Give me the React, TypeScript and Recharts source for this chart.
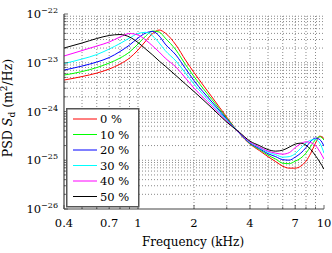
import React from 'react';
import { LineChart, Line, XAxis, YAxis, ReferenceLine } from 'recharts';

// Frequency samples (kHz)
const frequencyKHz = [0.4, 0.5, 0.6, 0.7, 0.8, 0.9, 1.0, 1.1, 1.2, 1.3, 1.4, 1.6, 1.8, 2, 2.5, 3, 3.5, 4, 4.5, 5, 5.5, 6, 6.5, 7, 7.5, 8, 8.5, 9, 9.5, 10];

// log10 of PSD S_d (m^2/Hz), one array per series
const psdLog0 = [-23.355, -23.283, -23.212, -23.129, -23.027, -22.904, -22.739, -22.554, -22.400, -22.329, -22.390, -22.637, -22.945, -23.201, -23.704, -24.115, -24.444, -24.669, -24.803, -24.926, -25.029, -25.121, -25.162, -25.162, -25.121, -25.019, -24.854, -24.649, -24.505, -24.556];
const psdLog10 = [-23.253, -23.181, -23.099, -23.006, -22.904, -22.780, -22.616, -22.452, -22.349, -22.370, -22.493, -22.739, -23.037, -23.283, -23.756, -24.136, -24.444, -24.659, -24.782, -24.895, -24.977, -25.060, -25.070, -25.019, -24.957, -24.854, -24.710, -24.577, -24.515, -24.587];
const psdLog20 = [-23.150, -23.068, -22.986, -22.893, -22.770, -22.637, -22.493, -22.390, -22.359, -22.452, -22.616, -22.842, -23.119, -23.366, -23.807, -24.156, -24.444, -24.649, -24.762, -24.865, -24.926, -24.988, -24.998, -24.936, -24.854, -24.741, -24.608, -24.546, -24.577, -24.710];
const psdLog30 = [-23.016, -22.924, -22.832, -22.719, -22.606, -22.493, -22.400, -22.376, -22.452, -22.595, -22.750, -22.965, -23.212, -23.437, -23.848, -24.177, -24.433, -24.639, -24.741, -24.834, -24.885, -24.936, -24.926, -24.865, -24.752, -24.649, -24.587, -24.577, -24.649, -24.854];
const psdLog40 = [-22.862, -22.750, -22.657, -22.575, -22.472, -22.400, -22.431, -22.534, -22.657, -22.780, -22.904, -23.088, -23.314, -23.520, -23.889, -24.197, -24.433, -24.628, -24.731, -24.813, -24.854, -24.875, -24.844, -24.741, -24.659, -24.622, -24.639, -24.700, -24.823, -24.977];
const psdLog50 = [-22.698, -22.595, -22.503, -22.441, -22.421, -22.472, -22.585, -22.719, -22.842, -22.965, -23.068, -23.263, -23.437, -23.591, -23.930, -24.218, -24.423, -24.608, -24.700, -24.782, -24.813, -24.793, -24.731, -24.669, -24.649, -24.690, -24.782, -24.906, -25.039, -25.183];

const seriesNames = ['0 %', '10 %', '20 %', '30 %', '40 %', '50 %'];
const seriesColors = ['#ff0000', '#00ff00', '#0000ff', '#00ffff', '#ff00ff', '#000000'];
const seriesLogs = [psdLog0, psdLog10, psdLog20, psdLog30, psdLog40, psdLog50];

const xLabeledTicks = [0.4, 0.7, 1, 2, 4, 7, 10];
const xGridTicks = [0.4, 0.5, 0.6, 0.7, 0.8, 0.9, 1, 2, 3, 4, 5, 6, 7, 8, 9, 10];
const yDecadeExponents = [-26, -25, -24, -23, -22];
const minorMultipliers = [1, 2, 3, 4, 5, 6, 7, 8, 9];

const yGridTicks: number[] = [];
yDecadeExponents.slice(0, -1).forEach((e) => {
  minorMultipliers.forEach((k) => yGridTicks.push(k * Math.pow(10, e)));
});
yGridTicks.push(Math.pow(10, yDecadeExponents[yDecadeExponents.length - 1]));

const data = frequencyKHz.map((f, i) => {
  const row: Record<string, number> = { f };
  seriesLogs.forEach((s, j) => {
    row['s' + j] = Math.pow(10, s[i]);
  });
  return row;
});

const FONT = 'DejaVu Serif';
const FRAME = '#444';
const GRID = '#8a8a8a';
const W = 332;
const H = 253;

const isDecade = (v: number) => {
  const l = Math.log10(v);
  return Math.abs(l - Math.round(l)) < 1e-6;
};

const BottomTick = (props: any) => {
  const { x, y, payload } = props;
  const v = payload.value;
  const labeled = xLabeledTicks.some((t) => Math.abs(t - v) < 1e-9);
  return (
    <g>
      <line x1={x} x2={x} y1={y} y2={y - (labeled ? 4 : 2.5)} stroke={FRAME} strokeWidth={0.8} />
      {labeled && (
        <text x={x} y={y + 18} textAnchor="middle" fontFamily={FONT} fontSize={11.5} fill="#000">
          {String(v)}
        </text>
      )}
    </g>
  );
};

const TopTick = (props: any) => {
  const { x, y, payload } = props;
  const v = payload.value;
  const labeled = xLabeledTicks.some((t) => Math.abs(t - v) < 1e-9);
  return <line x1={x} x2={x} y1={y} y2={y + (labeled ? 4 : 2.5)} stroke={FRAME} strokeWidth={0.8} />;
};

const LeftTick = (props: any) => {
  const { x, y, payload } = props;
  const v = payload.value;
  const dec = isDecade(v);
  const exp = Math.round(Math.log10(v));
  return (
    <g>
      <line x1={x} x2={x + (dec ? 4 : 2.5)} y1={y} y2={y} stroke={FRAME} strokeWidth={0.8} />
      {dec && (
        <text x={x - 6} y={y + 4} textAnchor="end" fontFamily={FONT} fill="#000">
          <tspan fontSize={11.5}>10</tspan>
          <tspan fontSize={8} dy={-5}>{'\u2212' + String(Math.abs(exp))}</tspan>
        </text>
      )}
    </g>
  );
};

const RightTick = (props: any) => {
  const { x, y, payload } = props;
  const dec = isDecade(payload.value);
  return <line x1={x} x2={x - (dec ? 4 : 2.5)} y1={y} y2={y} stroke={FRAME} strokeWidth={0.8} />;
};

const LegendBox = () => {
  const rowH = 15.5;
  return (
    <svg
      width={74}
      height={100}
      style={{ position: 'absolute', left: 66, top: 107.5 }}
    >
      <rect x={0.75} y={0.75} width={72} height={98} fill="#fff" stroke="#555" strokeWidth={1.5} />
      {seriesNames.map((name, i) => {
        const cy = 11 + rowH * i;
        return (
          <g key={name}>
            <line x1={7} x2={31} y1={cy} y2={cy} stroke={seriesColors[i]} strokeWidth={1} />
            <text x={34} y={cy + 4} fontFamily={FONT} fontSize={11.5} fill="#000">
              {name}
            </text>
          </g>
        );
      })}
    </svg>
  );
};

export default function App() {
  return (
    <div style={{ position: 'absolute', left: 0, top: 0, width: W, height: H, background: '#fff' }}>
      <LineChart width={W} height={H} data={data} margin={{ top: 14, right: 8, bottom: 0, left: 0 }}>
        {xGridTicks.slice(1, -1).map((v) => (
          <ReferenceLine key={'gx' + v} x={v} stroke={GRID} strokeDasharray="1 2" strokeWidth={1} />
        ))}
        {yGridTicks.slice(1, -1).map((v) => (
          <ReferenceLine key={'gy' + v} y={v} stroke={GRID} strokeDasharray="1 2" strokeWidth={1} />
        ))}
        <XAxis
          dataKey="f"
          type="number"
          scale="log"
          domain={[0.4, 10]}
          allowDataOverflow
          ticks={xGridTicks}
          interval={0}
          tickSize={0}
          tickMargin={0}
          tickLine={false}
          axisLine={{ stroke: FRAME, strokeWidth: 1.2 }}
          tick={<BottomTick />}
          height={44}
        />
        <XAxis
          xAxisId="top"
          orientation="top"
          dataKey="f"
          type="number"
          scale="log"
          domain={[0.4, 10]}
          allowDataOverflow
          ticks={xGridTicks}
          interval={0}
          tickSize={0}
          tickMargin={0}
          tickLine={false}
          axisLine={{ stroke: FRAME, strokeWidth: 1.2 }}
          tick={<TopTick />}
          height={0}
        />
        <YAxis
          type="number"
          scale="log"
          domain={[1e-26, 1e-22]}
          allowDataOverflow
          ticks={yGridTicks}
          interval={0}
          tickSize={0}
          tickMargin={0}
          tickLine={false}
          axisLine={{ stroke: FRAME, strokeWidth: 1.2 }}
          tick={<LeftTick />}
          width={64}
        />
        <YAxis
          yAxisId="right"
          orientation="right"
          type="number"
          scale="log"
          domain={[1e-26, 1e-22]}
          allowDataOverflow
          ticks={yGridTicks}
          interval={0}
          tickSize={0}
          tickMargin={0}
          tickLine={false}
          axisLine={{ stroke: FRAME, strokeWidth: 1.2 }}
          tick={<RightTick />}
          width={0}
        />
        {seriesNames.map((name, j) => (
          <Line
            key={name}
            name={name}
            dataKey={'s' + j}
            type="monotone"
            stroke={seriesColors[j]}
            strokeWidth={1}
            dot={false}
            isAnimationActive={false}
          />
        ))}
      </LineChart>
      <svg width={W} height={H} style={{ position: 'absolute', left: 0, top: 0, pointerEvents: 'none' }}>
        <text x={193} y={246} textAnchor="middle" fontFamily={FONT} fontSize={12} fill="#000">
          Frequency (kHz)
        </text>
        <text
          transform="translate(12, 108) rotate(-90)"
          textAnchor="middle"
          fontFamily={FONT}
          fontSize={12.5}
          fill="#000"
        >
          <tspan>PSD </tspan>
          <tspan fontStyle="italic">S</tspan>
          <tspan fontSize={9} dy={3}>d</tspan>
          <tspan dy={-3}> (m</tspan>
          <tspan fontSize={9} dy={-5}>2</tspan>
          <tspan dy={5}>/Hz)</tspan>
        </text>
      </svg>
      <LegendBox />
    </div>
  );
}
